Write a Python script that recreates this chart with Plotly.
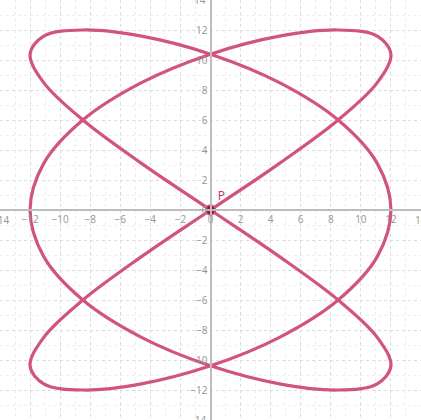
import plotly.graph_objects as go

# Curve points (closed loop)
curve_x = [0, 4.59, 8.49, 11.09, 12, 11.09, 8.49, 4.59, 0, -4.59, -8.49, -11.09,
           -12, -11.09, -8.49, -4.59, 0, 4.59, 8.49, 11.09, 12, 11.09, 8.49, 4.59,
           0, -4.59, -8.49, -11.09, -12, -11.09, -8.49, -4.59, 0, 4.59, 8.49, 11.09,
           12, 11.09, 8.49, 4.59, 0, -4.59, -8.49, -11.09, -12, -11.09, -8.49, -4.59, 0]
curve_y = [0, 3.11, 6, 8.49, 10.39, 11.59, 12, 11.59, 10.39, 8.49, 6, 3.11,
           0, -3.11, -6, -8.49, -10.39, -11.59, -12, -11.59, -10.39, -8.49, -6, -3.11,
           0, 3.11, 6, 8.49, 10.39, 11.59, 12, 11.59, 10.39, 8.49, 6, 3.11,
           0, -3.11, -6, -8.49, -10.39, -11.59, -12, -11.59, -10.39, -8.49, -6, -3.11, 0]

point_x = [0]
point_y = [0]
point_label = ["P"]

tick_vals = [-14, -12, -10, -8, -6, -4, -2, 0, 2, 4, 6, 8, 10, 12, 14]
tick_text = ["\u221214", "\u221212", "\u221210", "\u22128", "\u22126", "\u22124", "\u22122", "0",
             "2", "4", "6", "8", "10", "12", "14"]

curve_color = "#d0547d"
tick_color = "#959595"
tick_font = dict(color=tick_color, size=10, family="Open Sans")

fig = go.Figure()
fig.add_trace(go.Scatter(x=curve_x, y=curve_y, mode="lines",
                         line=dict(color=curve_color, width=3.2, shape="spline", smoothing=1.0),
                         hoverinfo="skip", showlegend=False, cliponaxis=False))
fig.add_trace(go.Scatter(x=point_x, y=point_y, mode="markers+text",
                         text=point_label, textposition="top right",
                         textfont=dict(color="#c0305f", size=12, family="Open Sans"),
                         marker=dict(color="#9c1238", size=10, line=dict(color=curve_color, width=1.5)),
                         showlegend=False))

axis_common = dict(
    range=[-14, 14], tickvals=tick_vals, ticktext=tick_text,
    showgrid=True, gridcolor="#dcdcdc", griddash="dot", gridwidth=1,
    minor=dict(dtick=1, showgrid=True, gridcolor="#eeeeee", griddash="dot", gridwidth=1),
    zeroline=False, showline=True, linecolor="#bdbdbd", linewidth=2,
    ticks="", tickfont=tick_font,
    anchor="free", position=0.5, fixedrange=True, automargin=False,
)
fig.update_xaxes(**axis_common, side="bottom")
fig.update_yaxes(**axis_common, side="left")

# edge tick labels that Plotly drops at the range limits
edge_vals = [tick_vals[0], tick_vals[-1]]
edge_text = [tick_text[0], tick_text[-1]]
for v, t in zip(edge_vals, edge_text):
    fig.add_annotation(x=v, y=0, xref="x", yref="y", text=t, showarrow=False,
                       font=tick_font, xanchor="center", yanchor="top", yshift=-1)
    fig.add_annotation(x=0, y=v, xref="x", yref="y", text=t, showarrow=False,
                       font=tick_font, xanchor="right", yanchor="middle", xshift=-3)

fig.update_layout(width=421, height=420, margin=dict(l=0, r=0, t=0, b=0, autoexpand=False),
                  plot_bgcolor="white", paper_bgcolor="white")

fig.write_html("out.html", config={"displayModeBar": False},
               post_script="document.body.style.margin='0';document.body.style.overflow='hidden';")
